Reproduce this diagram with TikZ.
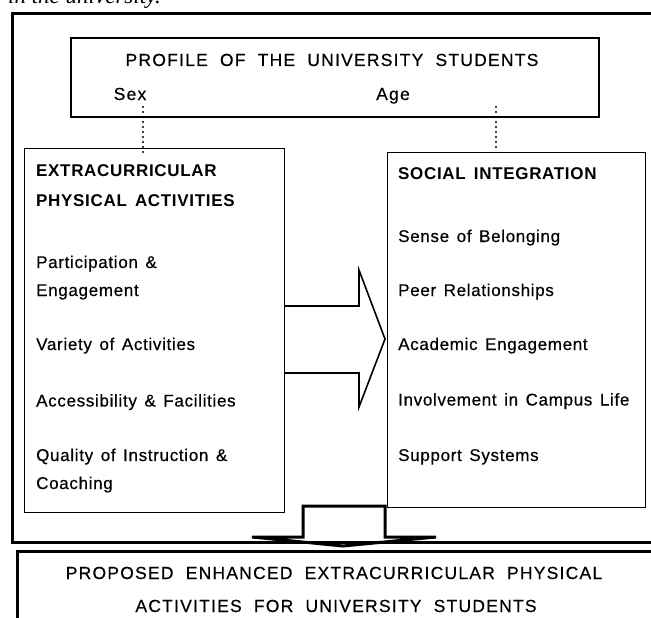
\documentclass[tikz,border=0pt]{standalone}
\usepackage{fontspec}
\setmainfont{Liberation Sans}
\newfontfamily\boxfont[LetterSpace=4, WordSpace=1.4, FakeBold=0.4]{Liberation Sans}
\newfontfamily\headfont[LetterSpace=4, WordSpace=1.5]{Liberation Sans}
\newfontfamily\titlefont[LetterSpace=7, WordSpace=2, FakeBold=0.4]{Liberation Sans}
\newfontfamily\serifit{Liberation Serif}
\begin{document}
\begin{tikzpicture}[x=1pt,y=-1pt,
  frame/.style={draw, line width=3pt, inner sep=0, anchor=north west},
  box/.style={draw, line width=1.3pt, inner sep=0, anchor=north west},
  item/.style={anchor=base west, inner sep=0, font=\boxfont\fontsize{17}{20}\selectfont},
  head/.style={anchor=base west, inner sep=0, font=\headfont\bfseries\fontsize{17}{20}\selectfont},
  ttl/.style={anchor=base, inner sep=0, font=\titlefont\fontsize{17.5}{21}\selectfont},
  dotline/.style={line width=2.2pt, dash pattern=on 0pt off 5pt, line cap=round},
  bigarrow/.style={line width=1.6pt, line join=miter},
  downarrow/.style={line width=3pt, line join=miter}]
\useasboundingbox (0,0) rectangle (651,618);
\clip (0,0) rectangle (651,618);
\fill[white] (0,0) rectangle (651,618);

% fragment of text above
\node[anchor=base west, inner sep=0, font=\serifit\itshape\fontsize{23}{26}\selectfont] (frag) at (8,4) {in the university.};

% outer frame
\node[frame, minimum width=680pt, minimum height=529pt] (outer) at (11,12) {};
% bottom box
\node[frame, minimum width=680pt, minimum height=120pt] (bottom) at (16,550) {};

% profile box
\node[draw, line width=2pt, inner sep=0, anchor=north west, minimum width=528pt, minimum height=79pt] (profile) at (70,37) {};
\node[ttl] (ptitle) at (332,66) {PROFILE OF THE UNIVERSITY STUDENTS};
\node[ttl] (sex) at (130,100) {Sex};
\node[ttl] (age) at (393,100) {Age};

% left box
\node[box, minimum width=260pt, minimum height=364pt] (left) at (24,148) {};
\node[head] (l1) at (36,176) {EXTRACURRICULAR};
\node[head] (l2) at (36,206) {PHYSICAL ACTIVITIES};
\node[item] (l3) at (36,268) {Participation \&};
\node[item] (l4) at (36,296) {Engagement};
\node[item] (l5) at (36,350) {Variety of Activities};
\node[item] (l6) at (36,406.5) {Accessibility \& Facilities};
\node[item] (l7) at (36,461) {Quality of Instruction \&};
\node[item] (l8) at (36,489) {Coaching};

% right box
\node[box, minimum width=258pt, minimum height=355pt] (right) at (387,152) {};
\node[head] (r1) at (398,179) {SOCIAL INTEGRATION};
\node[item] (r2) at (398,242) {Sense of Belonging};
\node[item] (r3) at (398,296) {Peer Relationships};
\node[item] (r4) at (398,350) {Academic Engagement};
\node[item] (r5) at (398,405.5) {Involvement in Campus Life};
\node[item] (r6) at (398,461) {Support Systems};

% dotted links
\coordinate (sexd) at (143,107);
\coordinate (sexe) at (143,155);
\coordinate (aged) at (496,107);
\coordinate (agee) at (496,150);
\draw[dotline] (sexd) -- (sexe);
\draw[dotline] (aged) -- (agee);

% big right arrow
\draw[bigarrow] (284,306) -- (359,306) -- (359,270) -- (385,339) -- (359,407) -- (359,373) -- (284,373);

% down arrow
\draw[downarrow] (303,537) -- (303,506) -- (385,506) -- (385,537) -- (436,537) -- (343,546) -- (252,537) -- cycle;

% bottom text
\node[ttl] (b1) at (334,579) {PROPOSED ENHANCED EXTRACURRICULAR PHYSICAL};
\node[ttl] (b2) at (336,612) {ACTIVITIES FOR UNIVERSITY STUDENTS};
\end{tikzpicture}
\end{document}
